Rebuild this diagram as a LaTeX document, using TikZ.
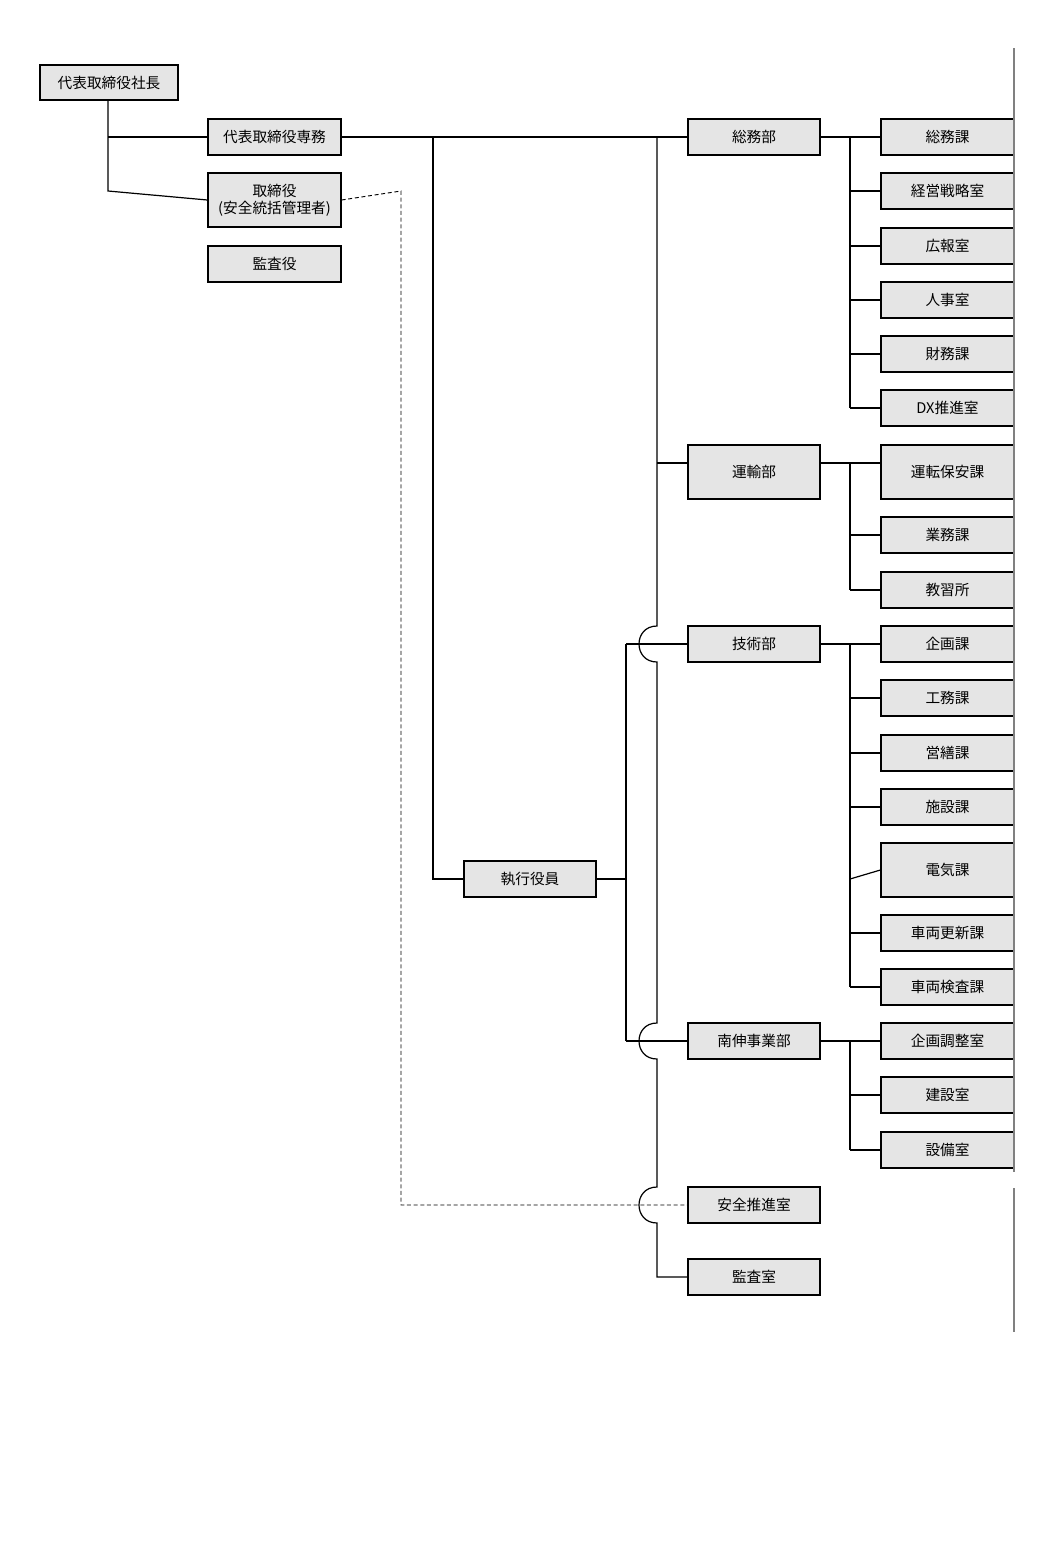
\documentclass[tikz,border=0pt]{standalone}
\usepackage{fontspec}
\setmainfont{Noto Sans CJK JP}
\begin{document}
\begin{tikzpicture}[x=0.75pt,y=-0.75pt,
 box/.style={draw,line width=0.9pt,fill=black!10,inner sep=0pt,font=\fontsize{11}{12.5}\selectfont,align=center},
 ln/.style={line width=0.9pt},
 ds/.style={line width=0.7pt,densely dashed}]
\useasboundingbox (0,0) rectangle (1050,1550);
\newcommand{\bx}[6]{\node[box,minimum width=#4*0.75pt-#2*0.75pt,minimum height=#5*0.75pt-#3*0.75pt] (#1) at ({(#2+#4)/2},{(#3+#5)/2}) {#6};}
\bx{ceo}{40}{65}{178}{100}{代表取締役社長}
\bx{sen}{208}{119}{341}{155}{代表取締役専務}
\bx{tor}{208}{173}{341}{227}{取締役\\(安全統括管理者)}
\bx{kan}{208}{246}{341}{282}{監査役}
\bx{som}{688}{119}{820}{155}{総務部}
\bx{unb}{688}{445}{820}{499}{運輸部}
\bx{gij}{688}{626}{820}{662}{技術部}
\bx{nan}{688}{1023}{820}{1059}{南伸事業部}
\bx{anz}{688}{1187}{820}{1223}{安全推進室}
\bx{kas}{688}{1259}{820}{1295}{監査室}
\bx{shi}{464}{861}{596}{897}{執行役員}
\bx{r1}{881}{119}{1014}{155}{総務課}
\bx{r2}{881}{173}{1014}{209}{経営戦略室}
\bx{r3}{881}{228}{1014}{264}{広報室}
\bx{r4}{881}{282}{1014}{318}{人事室}
\bx{r5}{881}{336}{1014}{372}{財務課}
\bx{r6}{881}{390}{1014}{426}{DX推進室}
\bx{r7}{881}{445}{1014}{499}{運転保安課}
\bx{r8}{881}{517}{1014}{553}{業務課}
\bx{r9}{881}{572}{1014}{608}{教習所}
\bx{r10}{881}{626}{1014}{662}{企画課}
\bx{r11}{881}{680}{1014}{716}{工務課}
\bx{r12}{881}{735}{1014}{771}{営繕課}
\bx{r13}{881}{789}{1014}{825}{施設課}
\bx{r14}{881}{843}{1014}{897}{電気課}
\bx{r15}{881}{915}{1014}{951}{車両更新課}
\bx{r16}{881}{969}{1014}{1005}{車両検査課}
\bx{r17}{881}{1023}{1014}{1059}{企画調整室}
\bx{r18}{881}{1077}{1014}{1113}{建設室}
\bx{r19}{881}{1132}{1014}{1168}{設備室}
\draw[black!50,line width=0.8pt] (1014,48) -- (1014,1172) (1014,1188) -- (1014,1332);
% president
\draw[ln] (ceo.south -| 108,0) -- (108,191) -- (tor.west);
\draw[ln] (108,137) -- (sen.west);
\draw[ln] (sen.east) -- (som.west);
\draw[ln] (433,137) -- (433,879) -- (shi.west);
% main vertical with jumps
\draw[ln] (657,137) -- (657,626) .. controls (633,626) and (633,662) .. (657,662)
 -- (657,1023) .. controls (633,1023) and (633,1059) .. (657,1059)
 -- (657,1187) .. controls (633,1187) and (633,1223) .. (657,1223)
 -- (657,1277) -- (kas.west);
\draw[ln] (657,463) -- (unb.west |- 0,463);
\draw[ln] (shi.east) -- (626,879);
\draw[ln] (626,644) -- (626,1041);
\draw[ln] (626,644) -- (gij.west);
\draw[ln] (626,1041) -- (nan.west);
\draw[ds] (tor.east) -- (401,191) -- (401,1205) -- (anz.west);
% subtrees
\draw[ln] (som.east) -- (r1.west);
\draw[ln] (850,137) -- (850,408);
\foreach \r in {r2,r3,r4,r5,r6} \draw[ln] (850,0 |- \r.west) -- (\r.west);
\draw[ln] (unb.east |- 0,463) -- (r7.west |- 0,463);
\draw[ln] (850,463) -- (850,590);
\foreach \r in {r8,r9} \draw[ln] (850,0 |- \r.west) -- (\r.west);
\draw[ln] (gij.east) -- (r10.west);
\draw[ln] (850,644) -- (850,987);
\foreach \r in {r11,r12,r13,r15,r16} \draw[ln] (850,0 |- \r.west) -- (\r.west);
\draw[ln] (850,879) -- (r14.west);
\draw[ln] (nan.east) -- (r17.west);
\draw[ln] (850,1041) -- (850,1150);
\foreach \r in {r18,r19} \draw[ln] (850,0 |- \r.west) -- (\r.west);
\end{tikzpicture}
\end{document}
